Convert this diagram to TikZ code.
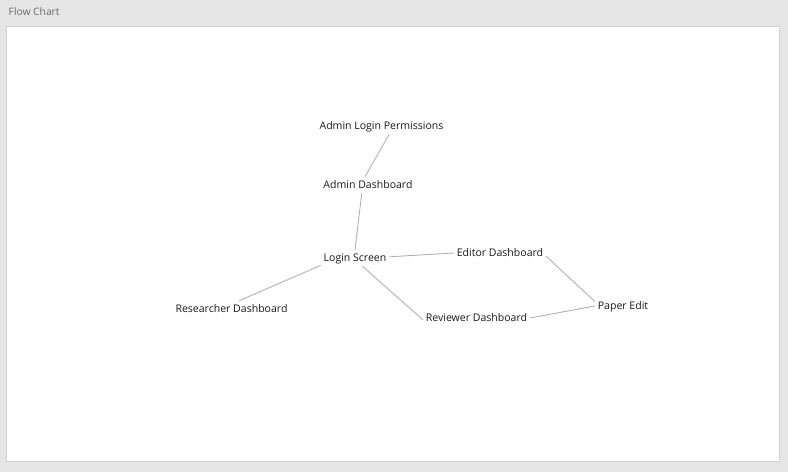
\documentclass[tikz,border=0pt]{standalone}
\usepackage{fontspec}
\setmainfont{Open Sans}
\definecolor{panelgray}{HTML}{E6E6E6}
\definecolor{edgegray}{HTML}{D2D2D2}
\definecolor{linkgray}{HTML}{B0B0B0}
\definecolor{titlegray}{HTML}{6A6A6A}
\definecolor{textdark}{HTML}{1A1A1A}
\begin{document}
\begin{tikzpicture}[x=0.75pt,y=-0.75pt,
    screen/.style={inner xsep=2pt, inner ysep=0pt, minimum height=12pt,
      text height=6pt, text depth=1pt,
      text=textdark, font=\fontsize{7.9}{9}\selectfont},
    link/.style={draw=linkgray, line width=0.65pt}]
    \fill[panelgray] (0,0) rectangle (788,472);
    \filldraw[fill=white, draw=edgegray, line width=0.75pt] (6,26) rectangle (779,461);
    \node[anchor=west, text=titlegray, font=\fontsize{7.7}{9}\selectfont] (title) at (4,12) {Flow Chart};

    \node[screen] (alp) at (381.5,126) {Admin Login Permissions};
    \node[screen] (ad) at (368,185) {Admin Dashboard};
    \node[screen] (ls) at (355,258) {Login Screen};
    \node[screen] (ed) at (500,253) {Editor Dashboard};
    \node[screen] (rd) at (231.5,309) {Researcher Dashboard};
    \node[screen] (rvd) at (476.5,318) {Reviewer Dashboard};
    \node[screen] (pe) at (623,306) {Paper Edit};

    \draw[link] (alp.-47) -- (ad.110);
    \draw[link] (ad.233) -- (ls.90);
    \draw[link] (ls.2) -- (ed.180);
    \draw[link] (ls.192) -- (rd.47);
    \draw[link] (ls.-48) -- (rvd.182);
    \draw[link] (ed.-4) -- (pe.171);
    \draw[link] (rvd.0) -- (pe.180);
  \end{tikzpicture}
\end{document}
